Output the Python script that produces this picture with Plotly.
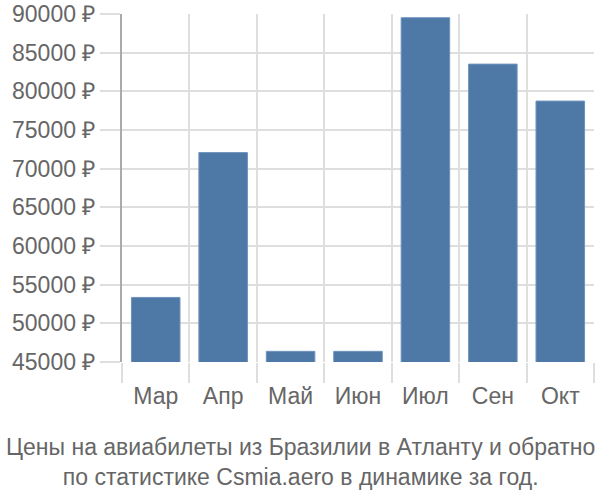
import plotly.graph_objects as go

months = ["Мар", "Апр", "Май", "Июн", "Июл", "Сен", "Окт"]
prices = [53350, 72080, 46380, 46380, 89520, 83520, 78740]
y_ticks = [45000, 50000, 55000, 60000, 65000, 70000, 75000, 80000, 85000, 90000]
y_labels = [f"{v} ₽" for v in y_ticks]
title_lines = ["Цены на авиабилеты из Бразилии в Атланту и обратно",
               "по статистике Csmia.aero в динамике за год."]

fig = go.Figure(go.Bar(
    x=months, y=prices, width=0.72,
    marker=dict(color="#4e79a7", line=dict(color="#6f93bb", width=1)),
))

font_main = "Liberation Sans, Arial, sans-serif"
fig.update_layout(
    width=600, height=500,
    margin=dict(l=122, r=6, t=14, b=138, autoexpand=False),
    plot_bgcolor="white", paper_bgcolor="white",
    showlegend=False,
    font=dict(family=font_main, size=20, color="#666666"),
    xaxis=dict(
        type="category", tickson="boundaries",
        showgrid=True, gridcolor="#dedede", gridwidth=2,
        ticks="outside", ticklen=20, tickcolor="#dedede", tickwidth=2,
        tickfont=dict(size=23, color="#666666"),
        ticklabelstandoff=18, automargin=False,
        showline=False, zeroline=False,
    ),
    yaxis=dict(
        range=[45000, 90000],
        tickvals=y_ticks, ticktext=y_labels,
        showgrid=True, gridcolor="#dedede", gridwidth=2,
        ticks="outside", ticklen=20, tickcolor="#dedede", tickwidth=2,
        tickfont=dict(size=23, color="#666666"),
        showline=True, linecolor="#aaaaaa", linewidth=2,
        zeroline=False, automargin=False,
    ),
    annotations=[dict(
        text="<br>".join(title_lines),
        xref="paper", yref="paper", x=(300 - 122) / 472, y=-0.2,
        xanchor="center", yanchor="top", showarrow=False,
        font=dict(size=23, color="#666666", family=font_main),
        align="center",
    )],
)

fig.write_html("out.html")
